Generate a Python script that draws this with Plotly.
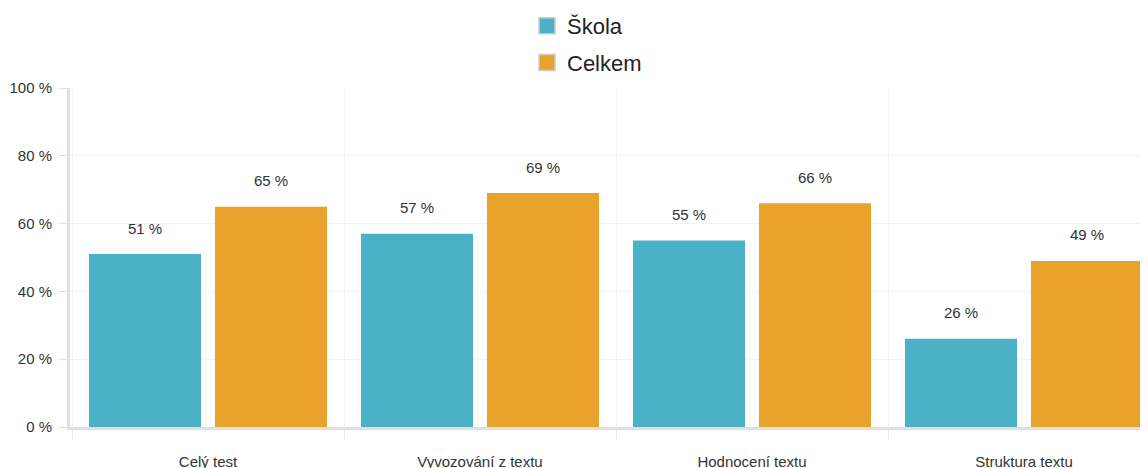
import plotly.graph_objects as go

categories = ["Celý test", "Vyvozování z textu", "Hodnocení textu", "Struktura textu"]
skola = [51, 57, 55, 26]
celkem = [65, 69, 66, 49]
series_names = ["Škola", "Celkem"]
colors = ["#4bb1c7", "#e9a22a"]
y_ticks = [0, 20, 40, 60, 80, 100]

fig = go.Figure()
for i, (name, vals, col) in enumerate(zip(series_names, [skola, celkem], colors)):
    fig.add_trace(go.Bar(
        x=categories, y=vals, name=name, marker=dict(color=col, line=dict(width=0)),
        showlegend=False,
    ))
    fig.add_trace(go.Scatter(
        x=[None], y=[None], mode="markers", name=name, legendgroup=f"g{i}",
        marker=dict(symbol="square", size=16, color=col, line=dict(color="#cccccc", width=1.5)),
    ))

# value labels
for vals, shift in zip([skola, celkem], [-63, 63]):
    for c, v in zip(categories, vals):
        fig.add_annotation(x=c, y=v, text=f"{v} %", showarrow=False, xshift=shift,
                           yshift=26, font=dict(size=15, color="#333333"))

fig.update_layout(
    width=1148, height=468,
    margin=dict(l=62, r=0, t=80, b=49, autoexpand=False),
    paper_bgcolor="white", plot_bgcolor="white",
    barmode="group", bargap=0.0735, bargroupgap=0.111,
    font=dict(family="Liberation Sans, Arial, sans-serif", color="#333333"),
    legend=dict(orientation="v", x=519 / 1148, xanchor="left", xref="container",
                y=1.0 + 83 / 339, yanchor="top", yref="paper", tracegroupgap=5,
                font=dict(size=22, color="#222222"),
                itemsizing="trace", bgcolor="rgba(0,0,0,0)"),
)
x0 = -0.5 - 2 / 272
fig.update_xaxes(
    range=[x0, x0 + 1086 / 272], tickson="boundaries", ticks="outside", ticklen=9,
    tickcolor="#e6e6e6", tickwidth=1, showgrid=True, gridcolor="#f2f2f2",
    showline=True, linecolor="#e0e0e0", linewidth=3, tickfont=dict(size=15),
    ticklabelstandoff=19, automargin=False,
)
fig.update_yaxes(
    range=[0, 100], tickvals=y_ticks, ticktext=[f"{t} %" for t in y_ticks],
    ticks="outside", ticklen=8, tickcolor="#e0e0e0", showgrid=True, gridcolor="#f2f2f2",
    showline=True, linecolor="#e0e0e0", linewidth=3, zeroline=False,
    tickfont=dict(size=15), ticklabelstandoff=4, automargin=False,
)
fig.write_html("out.html")
